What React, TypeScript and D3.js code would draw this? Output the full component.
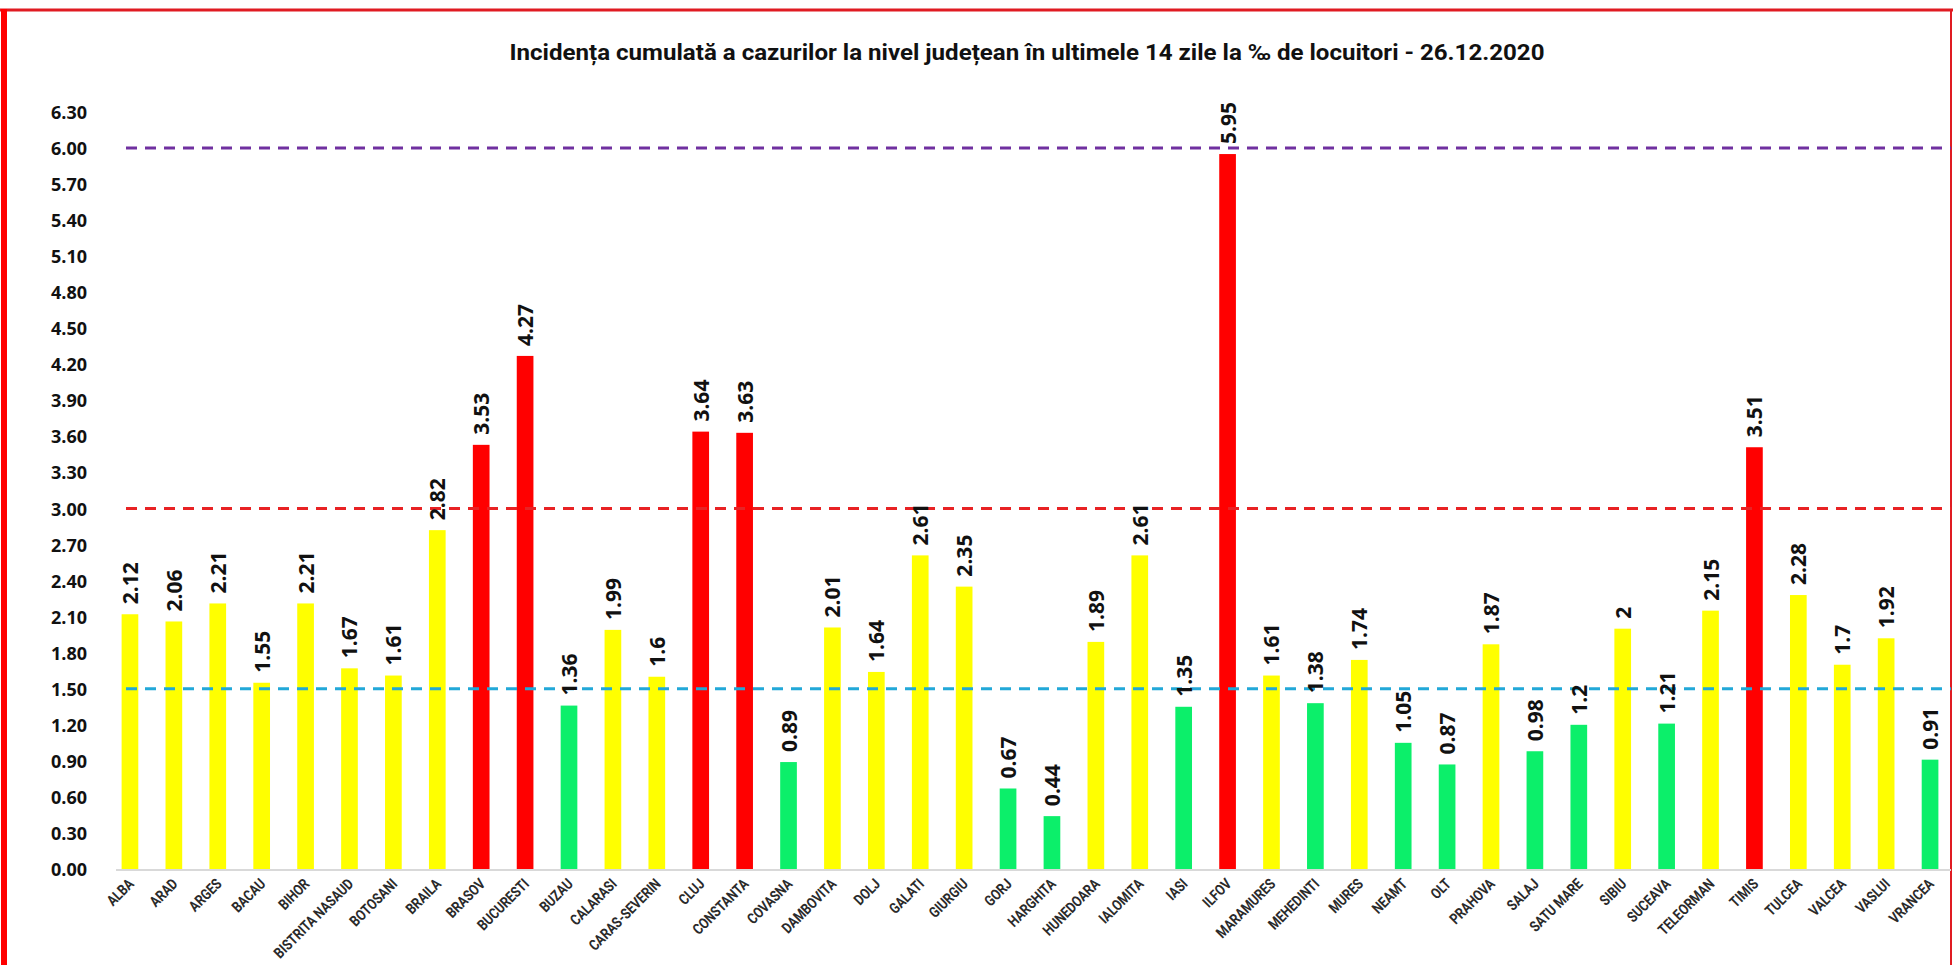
import React from "react";
import * as d3 from "d3";

const W = 1956;
const H = 965;

// county names, in the order they are drawn
const counties = [
  "ALBA", "ARAD", "ARGES", "BACAU", "BIHOR", "BISTRITA NASAUD", "BOTOSANI", "BRAILA",
  "BRASOV", "BUCURESTI", "BUZAU", "CALARASI", "CARAS-SEVERIN", "CLUJ", "CONSTANTA",
  "COVASNA", "DAMBOVITA", "DOLJ", "GALATI", "GIURGIU", "GORJ", "HARGHITA", "HUNEDOARA",
  "IALOMITA", "IASI", "ILFOV", "MARAMURES", "MEHEDINTI", "MURES", "NEAMT", "OLT",
  "PRAHOVA", "SALAJ", "SATU MARE", "SIBIU", "SUCEAVA", "TELEORMAN", "TIMIS", "TULCEA",
  "VALCEA", "VASLUI", "VRANCEA",
];

// 14-day cumulative incidence per 1000 inhabitants
const incidence = [
  2.12, 2.06, 2.21, 1.55, 2.21, 1.67, 1.61, 2.82,
  3.53, 4.27, 1.36, 1.99, 1.6, 3.64, 3.63,
  0.89, 2.01, 1.64, 2.61, 2.35, 0.67, 0.44, 1.89,
  2.61, 1.35, 5.95, 1.61, 1.38, 1.74, 1.05, 0.87,
  1.87, 0.98, 1.2, 2, 1.21, 2.15, 3.51, 2.28,
  1.7, 1.92, 0.91,
];

// y axis ticks 0.00 .. 6.30
const yTicks = d3.range(0, 22).map((i) => +(i * 0.3).toFixed(2));

// alert thresholds drawn as dashed lines
const thresholds = [
  { value: 6, color: "#7030A0" },
  { value: 3, color: "#E82224" },
  { value: 1.5, color: "#22A8D8" },
];

const title =
  "Incidența cumulată a cazurilor la nivel județean în ultimele 14 zile la ‰ de locuitori - 26.12.2020";

function barColor(v: number) {
  if (v > 3) return "#FF0000";
  if (v >= 1.5) return "#FFFF00";
  return "#0CEF6A";
}

export default function App() {
  const x = d3
    .scaleBand<string>()
    .domain(counties)
    .range([108, 1952])
    .paddingInner(0.62)
    .paddingOuter(0.31);

  const y = d3.scaleLinear().domain([0, 6.3]).range([869, 112]);

  const rows = counties.map((c, i) => ({ name: c, value: incidence[i] }));

  return (
    <svg
      width={W}
      height={H}
      style={{ position: "absolute", left: 0, top: 0, background: "#fff" }}
    >
      {/* frame */}
      <line x1={0} x2={1953} y1={10} y2={10} stroke="#E01B22" strokeWidth={3} />
      <line x1={4} x2={4} y1={9} y2={H} stroke="#F00" strokeWidth={6} />
      <line x1={1951} x2={1951} y1={9} y2={H} stroke="#E01B22" strokeWidth={2} />

      <text
        x={1027}
        y={60}
        textAnchor="middle"
        fontFamily="Roboto, 'Open Sans', sans-serif"
        fontWeight={700}
        fontSize={22}
        textLength={1035}
        lengthAdjust="spacingAndGlyphs"
        fill="#111"
      >
        {title}
      </text>

      {/* y axis labels */}
      <g fontFamily="'Open Sans', sans-serif" fontWeight={700} fontSize={18} fill="#111">
        {yTicks.map((t) => (
          <text key={t} x={87} y={y(t)} textAnchor="end" dominantBaseline="central">
            {t.toFixed(2)}
          </text>
        ))}
      </g>

      {/* bars */}
      <g>
        {rows.map((d) => (
          <rect
            key={d.name}
            x={x(d.name)}
            y={y(d.value)}
            width={x.bandwidth()}
            height={y(0) - y(d.value)}
            fill={barColor(d.value)}
          />
        ))}
      </g>

      {/* x axis */}
      <line x1={116} x2={1951} y1={y(0) + 1} y2={y(0) + 1} stroke="#D9D9D9" strokeWidth={2} />

      {/* threshold lines */}
      {thresholds.map((t) => (
        <line
          key={t.value}
          x1={126}
          x2={1951}
          y1={y(t.value)}
          y2={y(t.value)}
          stroke={t.color}
          strokeWidth={3}
          strokeDasharray="11 8"
        />
      ))}

      {/* value labels */}
      <g fontFamily="'Open Sans', sans-serif" fontWeight={700} fontSize={21} fill="#111">
        {rows.map((d) => {
          const cx = (x(d.name) as number) + x.bandwidth() / 2;
          const ty = y(d.value) - 10;
          return (
            <text
              key={d.name}
              transform={`translate(${cx},${ty}) rotate(-90)`}
              dominantBaseline="central"
            >
              {String(d.value)}
            </text>
          );
        })}
      </g>

      {/* category labels, slanted and slightly condensed */}
      <g fontFamily="Roboto, sans-serif" fontWeight={700} fontSize={15} fill="#2a2a2a">
        {rows.map((d) => {
          const cx = (x(d.name) as number) + x.bandwidth() / 2;
          return (
            <text
              key={d.name}
              transform={`translate(${cx + 1},${y(0) + 12}) rotate(-45) scale(0.82,1)`}
              textAnchor="end"
              dominantBaseline="central"
            >
              {d.name}
            </text>
          );
        })}
      </g>
    </svg>
  );
}
